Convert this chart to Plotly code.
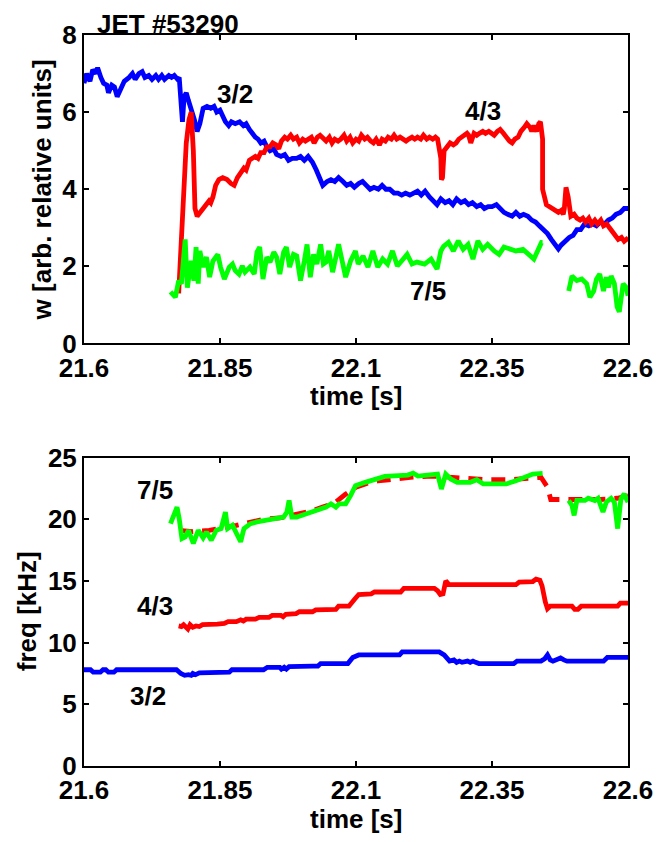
import plotly.graph_objects as go

# ---------------- DATA ----------------
# Top panel: mode amplitude w [arb. relative units] vs time [s]
t_w32 = [21.600, 21.605, 21.611, 21.616, 21.622, 21.625, 21.631, 21.636, 21.642, 21.645,
         21.651, 21.656, 21.661, 21.667, 21.674, 21.683, 21.689, 21.694, 21.701, 21.707,
         21.712, 21.719, 21.725, 21.732, 21.737, 21.743, 21.748, 21.756, 21.761, 21.766,
         21.772, 21.775, 21.779, 21.781, 21.784, 21.788, 21.792, 21.797, 21.803, 21.808,
         21.813, 21.819, 21.826, 21.833, 21.839, 21.844, 21.850, 21.855, 21.860, 21.866,
         21.871, 21.878, 21.886, 21.893, 21.898, 21.904, 21.909, 21.915, 21.920, 21.925,
         21.931, 21.936, 21.942, 21.949, 21.954, 21.962, 21.969, 21.976, 21.983, 21.991,
         21.998, 22.005, 22.012, 22.020, 22.027, 22.034, 22.039, 22.047, 22.054, 22.061,
         22.068, 22.076, 22.083, 22.090, 22.097, 22.105, 22.112, 22.119, 22.126, 22.133,
         22.141, 22.148, 22.155, 22.162, 22.170, 22.177, 22.184, 22.191, 22.199, 22.206,
         22.213, 22.220, 22.227, 22.235, 22.242, 22.249, 22.256, 22.264, 22.271, 22.278,
         22.285, 22.293, 22.300, 22.307, 22.314, 22.322, 22.329, 22.336, 22.343, 22.350,
         22.358, 22.365, 22.372, 22.379, 22.387, 22.394, 22.401, 22.408, 22.416, 22.423,
         22.430, 22.437, 22.445, 22.452, 22.459, 22.466, 22.472, 22.477, 22.484, 22.492,
         22.499, 22.506, 22.513, 22.520, 22.528, 22.535, 22.542, 22.549, 22.557, 22.564,
         22.571, 22.578, 22.586, 22.593, 22.600]
w32 = [6.75, 7.00, 6.80, 7.10, 7.00, 7.15, 6.90, 6.75, 6.70, 6.50,
       6.70, 6.65, 6.40, 6.60, 6.80, 6.90, 7.00, 6.85, 7.00, 7.05,
       6.90, 6.95, 6.85, 6.95, 6.85, 6.95, 6.85, 6.95, 6.90, 6.95,
       6.85, 6.90, 6.00, 5.75, 6.40, 6.50, 6.30, 6.10, 5.80, 5.50,
       5.70, 6.10, 6.15, 6.10, 6.15, 6.00, 6.05, 5.90, 5.75, 5.65,
       5.75, 5.70, 5.75, 5.65, 5.70, 5.55, 5.45, 5.35, 5.30, 5.20,
       5.25, 5.10, 5.00, 5.05, 4.90, 4.85, 4.90, 4.75, 4.80, 4.80,
       4.85, 4.75, 4.85, 4.70, 4.50, 4.30, 4.10, 4.20, 4.25, 4.20,
       4.30, 4.20, 4.10, 4.15, 4.05, 4.15, 4.20, 4.10, 4.00, 4.05,
       4.00, 4.10, 4.00, 4.00, 3.90, 3.90, 3.85, 3.90, 3.85, 3.90,
       3.95, 3.85, 3.95, 3.80, 3.70, 3.60, 3.75, 3.65, 3.70, 3.60,
       3.75, 3.65, 3.70, 3.60, 3.65, 3.55, 3.60, 3.50, 3.55, 3.55,
       3.60, 3.50, 3.40, 3.35, 3.30, 3.40, 3.30, 3.35, 3.30, 3.20,
       3.15, 3.05, 2.95, 2.85, 2.70, 2.55, 2.45, 2.55, 2.65, 2.75,
       2.80, 2.95, 2.95, 3.10, 3.05, 3.10, 3.05, 3.15, 3.10, 3.20,
       3.25, 3.35, 3.40, 3.50, 3.50]

t_w43 = [21.774, 21.777, 21.783, 21.788, 21.793, 21.797, 21.801, 21.804, 21.808, 21.813,
         21.819, 21.824, 21.830, 21.833, 21.837, 21.842, 21.848, 21.855, 21.863, 21.870,
         21.876, 21.882, 21.889, 21.894, 21.898, 21.904, 21.909, 21.915, 21.920, 21.925,
         21.931, 21.936, 21.942, 21.947, 21.953, 21.958, 21.963, 21.969, 21.974, 21.980,
         21.985, 21.991, 21.996, 22.002, 22.007, 22.012, 22.018, 22.023, 22.029, 22.034,
         22.040, 22.045, 22.051, 22.056, 22.061, 22.067, 22.072, 22.078, 22.083, 22.089,
         22.094, 22.100, 22.105, 22.110, 22.116, 22.121, 22.127, 22.132, 22.137, 22.143,
         22.148, 22.154, 22.159, 22.165, 22.170, 22.175, 22.181, 22.186, 22.192, 22.197,
         22.203, 22.208, 22.213, 22.219, 22.224, 22.230, 22.235, 22.241, 22.246, 22.250,
         22.256, 22.257, 22.259, 22.262, 22.268, 22.273, 22.279, 22.284, 22.289, 22.295,
         22.300, 22.304, 22.307, 22.311, 22.317, 22.322, 22.327, 22.333, 22.338, 22.344,
         22.349, 22.354, 22.360, 22.365, 22.371, 22.376, 22.382, 22.387, 22.392, 22.398,
         22.403, 22.409, 22.414, 22.420, 22.423, 22.427, 22.432, 22.436, 22.439, 22.443,
         22.443, 22.450, 22.456, 22.461, 22.467, 22.472, 22.477, 22.481, 22.483, 22.484,
         22.486, 22.490, 22.495, 22.501, 22.506, 22.512, 22.517, 22.522, 22.528, 22.533,
         22.539, 22.544, 22.550, 22.555, 22.561, 22.566, 22.571, 22.577, 22.582, 22.588,
         22.593, 22.597, 22.600]
w43 = [1.30, 2.20, 4.10, 5.20, 5.80, 6.00, 5.00, 3.50, 3.30, 3.40,
       3.50, 3.60, 3.70, 3.65, 3.80, 4.10, 4.25, 4.30, 4.25, 4.15,
       4.10, 4.30, 4.45, 4.55, 4.50, 4.75, 4.80, 4.85, 4.80, 4.95,
       4.95, 5.10, 5.10, 5.20, 5.15, 5.05, 5.25, 5.35, 5.30, 5.40,
       5.30, 5.35, 5.20, 5.30, 5.25, 5.30, 5.35, 5.20, 5.35, 5.40,
       5.30, 5.25, 5.35, 5.20, 5.30, 5.25, 5.30, 5.40, 5.25, 5.35,
       5.20, 5.30, 5.25, 5.40, 5.30, 5.35, 5.25, 5.20, 5.30, 5.15,
       5.30, 5.25, 5.35, 5.30, 5.40, 5.30, 5.35, 5.30, 5.25, 5.30,
       5.35, 5.30, 5.35, 5.30, 5.40, 5.30, 5.35, 5.30, 5.35, 5.30,
       4.80, 4.25, 4.30, 5.00, 5.10, 5.20, 5.15, 5.20, 5.30, 5.35,
       5.40, 5.45, 5.40, 5.20, 5.45, 5.40, 5.45, 5.50, 5.45, 5.50,
       5.45, 5.40, 5.50, 5.55, 5.45, 5.35, 5.25, 5.20, 5.30, 5.35,
       5.50, 5.60, 5.70, 5.60, 5.50, 5.65, 5.50, 5.70, 5.75, 5.30,
       4.00, 3.60, 3.55, 3.50, 3.45, 3.40, 3.45, 3.35, 3.50, 4.00,
       4.05, 3.80, 3.30, 3.35, 3.25, 3.20, 3.25, 3.15, 3.25, 3.10,
       3.20, 3.10, 3.20, 3.05, 3.10, 3.00, 2.90, 2.75, 2.70, 2.75,
       2.65, 2.70, 2.65]

t_w75 = [21.759, 21.768, 21.774, 21.779, 21.786, 21.790, 21.797, 21.802, 21.806, 21.810,
         21.813, 21.819, 21.825, 21.831, 21.837, 21.846, 21.851, 21.858, 21.867, 21.873,
         21.878, 21.885, 21.891, 21.896, 21.905, 21.913, 21.918, 21.923, 21.929, 21.936,
         21.942, 21.949, 21.954, 21.960, 21.967, 21.972, 21.978, 21.985, 21.991, 21.998,
         22.005, 22.010, 22.016, 22.022, 22.028, 22.035, 22.040, 22.045, 22.050, 22.057,
         22.068, 22.081, 22.090, 22.099, 22.104, 22.113, 22.122, 22.131, 22.140, 22.149,
         22.158, 22.167, 22.176, 22.185, 22.194, 22.203, 22.212, 22.226, 22.238, 22.249,
         22.256, 22.261, 22.270, 22.279, 22.288, 22.297, 22.306, 22.315, 22.324, 22.333,
         22.342, 22.354, 22.363, 22.372, 22.383, 22.394, 22.407, 22.418, 22.427, 22.441,
         22.443,
         None,
         22.491, 22.497, 22.506, 22.515, 22.524, 22.530, 22.537, 22.542, 22.548, 22.555,
         22.560, 22.564, 22.569, 22.575, 22.580, 22.584, 22.591, 22.597, 22.600]
w75 = [1.34, 1.20, 1.63, 1.55, 2.70, 1.45, 2.14, 1.63, 2.50, 1.55,
       2.40, 1.98, 2.24, 1.72, 2.14, 2.31, 1.98, 1.67, 1.98, 2.06,
       1.89, 1.80, 2.01, 1.85, 1.98, 1.80, 2.37, 2.50, 1.67, 2.24,
       2.11, 2.37, 2.24, 1.80, 2.37, 2.50, 1.98, 2.31, 2.27, 1.63,
       2.14, 2.57, 1.72, 2.31, 2.06, 2.57, 2.06, 2.11, 2.40, 1.85,
       2.57, 1.72, 2.14, 2.40, 2.06, 2.27, 1.98, 2.40, 1.98, 2.19,
       2.06, 2.40, 2.01, 2.14, 2.31, 2.06, 2.11, 2.06, 2.19, 1.93,
       2.40, 2.52, 2.62, 2.40, 2.66, 2.44, 2.57, 2.19, 2.66, 2.44,
       2.57, 2.40, 2.31, 2.50, 2.44, 2.40, 2.44, 2.31, 2.19, 2.62,
       2.62,
       None,
       1.36, 1.75, 1.63, 1.67, 1.55, 1.20, 1.36, 1.67, 1.80, 1.36,
       1.72, 1.45, 1.75, 1.55, 0.95, 0.82, 1.55, 1.45, 1.24]

# Bottom panel: mode frequency [kHz] vs time [s]
t_f32 = [21.600, 21.612, 21.617, 21.630, 21.635, 21.640, 21.645, 21.655, 21.660, 21.770,
         21.778, 21.785, 21.792, 21.797, 21.800, 21.805, 21.812, 21.867, 21.872, 21.930,
         21.937, 21.960, 21.963, 21.968, 21.972, 21.977, 22.020, 22.030, 22.035, 22.085,
         22.094, 22.105, 22.180, 22.185, 22.253, 22.262, 22.272, 22.280, 22.285, 22.290,
         22.295, 22.300, 22.305, 22.310, 22.315, 22.320, 22.326, 22.390, 22.396, 22.440,
         22.447, 22.452, 22.457, 22.462, 22.470, 22.476, 22.482, 22.488, 22.555, 22.562,
         22.600]
f32 = [7.8, 7.8, 7.6, 7.6, 7.8, 7.8, 7.6, 7.6, 7.8, 7.8,
       7.5, 7.35, 7.4, 7.35, 7.5, 7.4, 7.55, 7.6, 7.8, 7.8,
       8.0, 8.0, 7.85, 8.0, 7.85, 8.05, 8.1, 8.1, 8.3, 8.3,
       8.8, 9.0, 9.0, 9.25, 9.25, 9.0, 8.5, 8.6, 8.4, 8.5,
       8.4, 8.5, 8.5, 8.4, 8.5, 8.4, 8.3, 8.3, 8.5, 8.5,
       8.7, 9.0, 8.6, 8.5, 8.7, 8.75, 8.6, 8.5, 8.5, 8.8,
       8.8]

t_f43 = [21.774, 21.779, 21.783, 21.787, 21.791, 21.795, 21.800, 21.806, 21.812, 21.818,
         21.830, 21.845, 21.858, 21.865, 21.880, 21.888, 21.893, 21.898, 21.915, 21.922,
         21.940, 21.946, 21.962, 21.966, 21.971, 21.990, 21.996, 22.020, 22.026, 22.063,
         22.068, 22.087, 22.097, 22.105, 22.128, 22.134, 22.182, 22.188, 22.244, 22.250,
         22.255, 22.260, 22.265, 22.271, 22.394, 22.400, 22.425, 22.431, 22.438, 22.442,
         22.448, 22.452, 22.457, 22.497, 22.502, 22.508, 22.514, 22.581, 22.586, 22.600]
f43 = [11.35, 11.3, 11.45, 11.3, 11.1, 11.45, 11.25, 11.35, 11.3, 11.45,
       11.45, 11.5, 11.55, 11.7, 11.7, 11.85, 11.75, 11.9, 11.9, 12.05,
       12.05, 12.2, 12.2, 12.1, 12.3, 12.35, 12.5, 12.5, 12.65, 12.7,
       12.95, 12.95, 13.5, 13.9, 13.95, 14.1, 14.1, 14.4, 14.4, 14.2,
       13.9, 13.95, 15.0, 14.7, 14.7, 14.9, 14.95, 15.15, 15.05, 14.6,
       13.3, 12.75, 12.95, 12.95, 12.7, 12.7, 12.95, 12.95, 13.2, 13.2]

t_f75_fit = [21.775, 21.800, 21.830, 21.860, 21.880, 21.900, 21.930, 21.960, 21.990, 22.020,
             22.040, 22.060, 22.080, 22.100, 22.120, 22.140, 22.160, 22.200, 22.240, 22.270,
             22.300, 22.340, 22.380, 22.420, 22.440, 22.452, 22.458, 22.500, 22.550, 22.580,
             22.600]
f75_fit = [19.1, 19.0, 19.1, 19.3, 19.5, 19.7, 20.0, 20.1, 20.4, 20.7,
           21.0, 21.3, 22.0, 22.6, 22.9, 23.1, 23.2, 23.4, 23.5, 23.4,
           23.3, 23.2, 23.2, 23.3, 23.4, 22.6, 21.6, 21.6, 21.6, 21.7,
           21.9]

t_f75 = [21.759, 21.765, 21.771, 21.775, 21.780, 21.786, 21.792, 21.801, 21.810, 21.819,
         21.825, 21.834, 21.843, 21.852, 21.860, 21.864, 21.873, 21.882, 21.888, 21.894,
         21.906, 21.918, 21.930, 21.948, 21.967, 21.973, 21.977, 21.982, 21.991, 22.009,
         22.027, 22.045, 22.054, 22.063, 22.069, 22.081, 22.090, 22.099, 22.117, 22.135,
         22.153, 22.195, 22.205, 22.214, 22.250, 22.257, 22.265, 22.274, 22.286, 22.310,
         22.322, 22.334, 22.376, 22.394, 22.412, 22.425, 22.443,
         None,
         22.491, 22.497, 22.501, 22.506, 22.521, 22.527, 22.539, 22.545, 22.554, 22.560,
         22.569, 22.575, 22.581, 22.587, 22.593, 22.600]
f75 = [19.64, 20.30, 20.98, 20.04, 18.43, 18.57, 19.10, 18.03, 19.10, 18.49,
       18.97, 18.30, 19.10, 19.24, 20.58, 19.24, 19.51, 18.70, 18.17, 19.24,
       19.64, 19.78, 19.90, 20.04, 20.18, 20.58, 21.52, 20.18, 20.18, 20.44,
       20.71, 20.98, 21.25, 20.98, 21.25, 21.25, 21.92, 22.72, 22.99, 23.26,
       23.47, 23.58, 23.74, 23.50, 23.66, 22.45, 23.66, 23.26, 22.99, 22.99,
       23.20, 22.86, 22.86, 23.12, 23.39, 23.66, 23.71,
       None,
       21.52, 21.11, 20.31, 21.52, 21.52, 21.70, 21.52, 21.70, 20.58, 21.38,
       21.70, 21.38, 19.24, 21.65, 22.05, 21.38]

x_tickvals = [21.6, 21.85, 22.1, 22.35, 22.6]
x_ticktext = ["21.6", "21.85", "22.1", "22.35", "22.6"]
w_tickvals = [0, 2, 4, 6, 8]
f_tickvals = [0, 5, 10, 15, 20, 25]

# mode labels: (text, time, value)
labels_top = [("3/2", 21.8776, 6.46), ("4/3", 22.334, 6.02), ("7/5", 22.2326, 1.37)]
labels_bot = [("7/5", 21.7314, 22.39), ("4/3", 21.7314, 12.97), ("3/2", 21.718, 5.66)]

# ---------------- FIGURE ----------------
BLUE, RED, GREEN = "#0000FF", "#FF0000", "#00FF00"
LW = 4.8
FONT = "Liberation Sans, Arial, Helvetica, sans-serif"
FS = 26

fig = go.Figure()
fig.add_trace(go.Scatter(x=t_w32, y=w32, mode="lines", line=dict(color=BLUE, width=LW),
                         xaxis="x", yaxis="y", showlegend=False))
fig.add_trace(go.Scatter(x=t_w43, y=w43, mode="lines", line=dict(color=RED, width=LW),
                         xaxis="x", yaxis="y", showlegend=False))
fig.add_trace(go.Scatter(x=t_w75, y=w75, mode="lines", line=dict(color=GREEN, width=LW),
                         xaxis="x", yaxis="y", showlegend=False, connectgaps=False))

fig.add_trace(go.Scatter(x=t_f32, y=f32, mode="lines", line=dict(color=BLUE, width=LW),
                         xaxis="x2", yaxis="y2", showlegend=False))
fig.add_trace(go.Scatter(x=t_f43, y=f43, mode="lines", line=dict(color=RED, width=LW),
                         xaxis="x2", yaxis="y2", showlegend=False))
fig.add_trace(go.Scatter(x=t_f75_fit, y=f75_fit, mode="lines",
                         line=dict(color=RED, width=LW, dash="14px,9px"),
                         xaxis="x2", yaxis="y2", showlegend=False))
fig.add_trace(go.Scatter(x=t_f75, y=f75, mode="lines", line=dict(color=GREEN, width=LW),
                         xaxis="x2", yaxis="y2", showlegend=False, connectgaps=False))

tickfont = dict(family=FONT, size=FS, color="black", weight="bold")
common_x = dict(range=[21.6, 22.6], tickvals=x_tickvals, ticktext=x_ticktext,
                ticks="inside", ticklen=5, tickwidth=1.5, tickcolor="black",
                showline=True, linecolor="black", linewidth=2, mirror="ticks",
                showgrid=False, zeroline=False, tickfont=tickfont,
                ticklabeloverflow="allow")
common_y = dict(ticks="inside", ticklen=5, tickwidth=1.5, tickcolor="black",
                showline=True, linecolor="black", linewidth=2, mirror="ticks",
                showgrid=False, zeroline=False, tickfont=tickfont)

# page body adds an 8px offset; plot area sits at x 84..637, y 29..766 in the page
OFF = 8
W, H = 665 - OFF, 842 - OFF
top_dom = [(766 - 340) / 737, 1.0]
bot_dom = [0.0, (766 - 455) / 737]

fig.update_layout(
    width=W, height=H,
    margin=dict(l=84 - OFF, r=W - (637 - OFF), t=29 - OFF, b=H - (766 - OFF)),
    plot_bgcolor="white", paper_bgcolor="white",
    showlegend=False,
    xaxis=dict(domain=[0, 1], anchor="y", **common_x),
    yaxis=dict(domain=top_dom, anchor="x", range=[0, 8], tickvals=w_tickvals, **common_y),
    xaxis2=dict(domain=[0, 1], anchor="y2", **common_x),
    yaxis2=dict(domain=bot_dom, anchor="x2", range=[0, 25], tickvals=f_tickvals, **common_y),
)

bold = dict(family=FONT, size=FS, color="black", weight="bold")
ann = []
for txt, tx, vy in labels_top:
    ann.append(dict(text=txt, x=tx, y=vy, xref="x", yref="y", showarrow=False, font=bold))
for txt, tx, vy in labels_bot:
    ann.append(dict(text=txt, x=tx, y=vy, xref="x2", yref="y2", showarrow=False, font=bold))

def px_x(p):
    return (p - 84) / (637 - 84)

def px_y(p):
    return (766 - p) / 737

# title
ann.append(dict(text="JET #53290", x=px_x(95), y=px_y(18), xref="paper", yref="paper",
                xanchor="left", yanchor="middle", showarrow=False, font=bold))
# axis titles
ann.append(dict(text="time [s]", x=0.5, y=px_y(393), xref="paper", yref="paper",
                xanchor="center", yanchor="middle", showarrow=False, font=bold))
ann.append(dict(text="time [s]", x=0.5, y=px_y(819), xref="paper", yref="paper",
                xanchor="center", yanchor="middle", showarrow=False, font=bold))
ann.append(dict(text="w [arb. relative units]", x=px_x(41), y=px_y(185), xref="paper", yref="paper",
                xanchor="center", yanchor="middle", textangle=-90, showarrow=False, font=bold))
ann.append(dict(text="freq [kHz]", x=px_x(26), y=px_y(610), xref="paper", yref="paper",
                xanchor="center", yanchor="middle", textangle=-90, showarrow=False, font=bold))
fig.update_layout(annotations=ann)

fig.write_html("out.html")
